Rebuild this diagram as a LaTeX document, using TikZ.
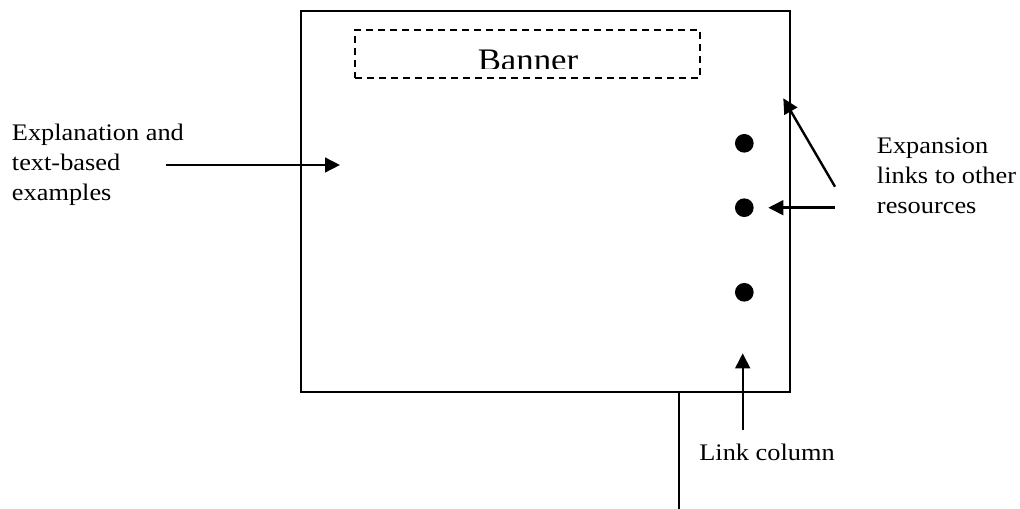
\documentclass[tikz,border=0pt]{standalone}
\usepackage{fontspec}
\setmainfont{Liberation Serif}[FakeStretch=1.11]
\usepackage{tikz}
\usetikzlibrary{calc,arrows.meta}

\tikzset{
  lbl/.style={inner sep=0pt, align=left, font=\fontsize{17.8}{22.5}\selectfont},
  arr/.style={line width=1.8pt, -{Triangle[length=11.25pt,width=11pt]}},
  dot/.style={circle, fill=black, inner sep=0pt, minimum size=14pt}
}

\begin{document}
\begin{tikzpicture}[x=0.75pt,y=-0.75pt]

\useasboundingbox (0,0) rectangle (1020,509);

% page and banner
\node (page) at (545.5,201.5) [draw, line width=2pt, minimum width=366.75pt, minimum height=285.75pt] {};
\node (banner) at (527.5,54) [draw, line width=1.5pt, dash pattern=on 5.5pt off 3.5pt, minimum width=258.75pt, minimum height=36pt] {};

\begin{scope}
\clip (355,30) rectangle (700,69);
\node (bannertext) at (528,71) [anchor=base, inner sep=0pt, font=\fontsize{23.5}{28}\selectfont] {Banner};
\end{scope}

% link column
\node (dot1) at (744.3,143.3) [dot] {};
\node (dot2) at (744.3,207.7) [dot] {};
\node (dot3) at (744.3,292.3) [dot] {};

% stem below the page
\coordinate (stemtop) at (679,392);
\coordinate (stemmid) at (679,424);
\coordinate (stemlow) at (679,493);
\coordinate (stemend) at (679,509);
\draw[line width=2pt] (stemtop) -- (stemmid);
\draw[line width=1pt] (stemmid) -- (stemlow);
\draw[line width=2pt] (stemlow) -- (stemend);

% labels (base = last line)
\node (explain) at (11.7,200.7) [lbl, anchor=base west] {Explanation and\\text-based\\examples};
\node (expand) at (876.7,214) [lbl, anchor=base west] {Expansion\\links to other\\resources};
\node (linkcol) at (767,460) [lbl, anchor=base] {Link column};

% arrows
\coordinate (explfrom) at (165.7,165);
\coordinate (explto) at (340,165);
\draw[arr] (explfrom) -- (explto);

\coordinate (expfrom1) at (835,186.7);
\coordinate (expto1) at (783.3,98.3);
\draw[arr] (expfrom1) -- (expto1);

\coordinate (expfrom2) at (835,207.7);
\coordinate (expto2) at (768.3,207.7);
\draw[arr] (expfrom2) -- (expto2);

\coordinate (colfrom) at (742.7,430);
\coordinate (colto) at (742.7,353.3);
\draw[arr] (colfrom) -- (colto);

\end{tikzpicture}
\end{document}
